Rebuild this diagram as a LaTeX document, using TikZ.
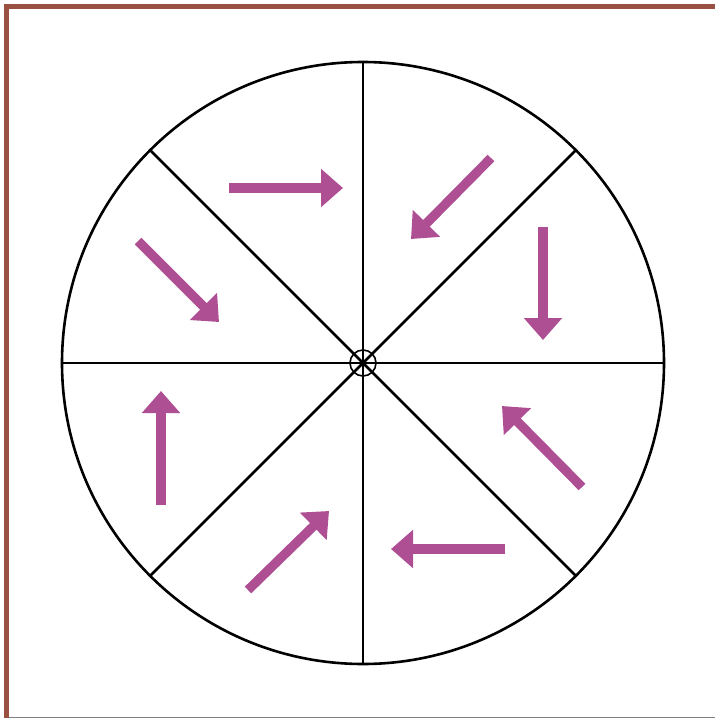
\documentclass[tikz,border=0pt]{standalone}
\usepackage{tikz}
\usetikzlibrary{arrows.meta}

\definecolor{frameBrown}{RGB}{153,80,64}
\definecolor{flowPink}{RGB}{174,79,148}

\begin{document}
\begin{tikzpicture}[
  x=1pt, y=-1pt,
  spoke/.style={black, line width=2.6pt},
  flow/.style={flowPink, line width=9.3pt, -{Triangle[length=22pt, width=37pt]}},
]
\useasboundingbox (0,0) rectangle (715,718);

% Frame
\draw[frameBrown, line width=5pt] (6.5,718) -- (6.5,6.5) -- (715,6.5);
\draw[gray, line width=1pt] (9,717.5) -- (715,717.5);

% Wheel
\coordinate (hub) at (363,363);
\draw[spoke] (hub) circle (301);
\foreach \a in {0,45,...,315} {
  \draw[spoke] (hub) -- ++(\a:301);
}
\draw[black, line width=1.6pt] (hub) circle (13);

% Arrows in the sectors
\coordinate (s1) at (229,188);  \coordinate (e1) at (343,188);
\coordinate (s2) at (491,158);  \coordinate (e2) at (411,239);
\coordinate (s3) at (543,227);  \coordinate (e3) at (543,340);
\coordinate (s4) at (582,487);  \coordinate (e4) at (502,406);
\coordinate (s5) at (505,549);  \coordinate (e5) at (391,549);
\coordinate (s6) at (248,590);  \coordinate (e6) at (329,511);
\coordinate (s7) at (161,505);  \coordinate (e7) at (161,391);
\coordinate (s8) at (138,241);  \coordinate (e8) at (219,322);
\foreach \i in {1,...,8} {
  \draw[flow] (s\i) -- (e\i);
}
\end{tikzpicture}
\end{document}
